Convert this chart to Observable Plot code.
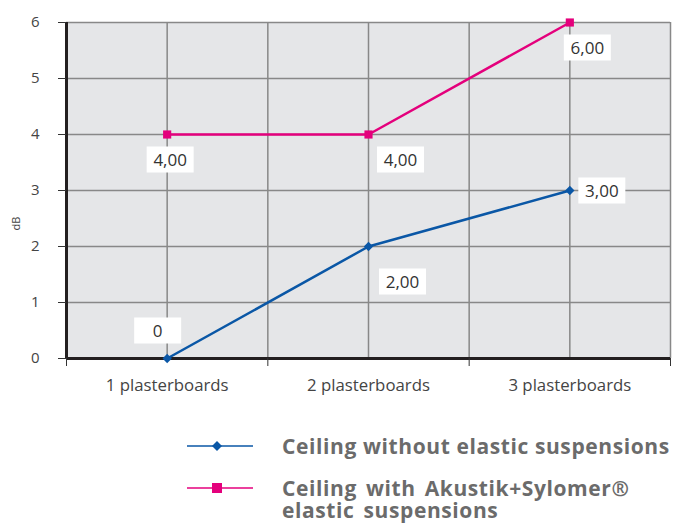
<!DOCTYPE html>
<html>
<head>
<meta charset="utf-8">
<script src="https://cdn.jsdelivr.net/npm/d3@7"></script>
<script src="https://cdn.jsdelivr.net/npm/@observablehq/plot@0.6"></script>
<style>
  html, body { margin: 0; padding: 0; background: #fff; }
  body { width: 678px; height: 524px; overflow: hidden; font-family: "Open Sans", "Noto Sans", sans-serif; }
  #chart svg { display: block; }
  .legend { position: relative; height: 115px; }
  .item { position: absolute; left: 0; }
  .item svg { position: absolute; left: 187px; }
  .item .txt { position: absolute; left: 282px; width: 390px; color: #6b6b6b; font-weight: 700; font-size: 21px; line-height: 22px; letter-spacing: 0.6px; white-space: normal; }
</style>
</head>
<body>
<div id="chart"></div>
<div class="legend" id="legend"></div>
<script>
const categories = ["1 plasterboards", "2 plasterboards", "3 plasterboards"];
const withoutSuspensions = [0, 2, 3];
const withSuspensions = [4, 4, 6];
const withoutLabels = ["0", "2,00", "3,00"];
const withLabels = ["4,00", "4,00", "6,00"];
const yTicks = [0, 1, 2, 3, 4, 5, 6];
const seriesNames = ["Ceiling without elastic suspensions", "Ceiling with Akustik+Sylomer® elastic suspensions"];

const BLUE = "#0a57a6";
const MAGENTA = "#e4007c";

// category i sits in the middle of its band [2i, 2i+2]
const pos = categories.map((c, i) => 2 * i + 1);
const edges = d3.range(0, 2 * categories.length + 1, 2);
const blue = categories.map((c, i) => ({x: pos[i], y: withoutSuspensions[i], label: withoutLabels[i]}));
const pink = categories.map((c, i) => ({x: pos[i], y: withSuspensions[i], label: withLabels[i]}));

const box = {draw(ctx) { ctx.rect(-23.5, -13, 47, 26); }};
function label(d, dx, dy) {
  return [
    Plot.dot([d], {x: "x", y: "y", symbol: box, r: 5, fill: "white", stroke: "none", dx, dy}),
    Plot.text([d], {x: "x", y: "y", text: "label", dx, dy: dy + 1, fontSize: 17, fill: "#333"})
  ];
}
const blueOff = [[-9.5, -28], [34, 35], [32, 0]];
const pinkOff = [[3, 25], [32, 25], [17.5, 25]];

const chart = Plot.plot({
  width: 678,
  height: 405,
  marginLeft: 66,
  marginRight: 8,
  marginTop: 22,
  marginBottom: 47,
  style: {fontFamily: "'Open Sans', 'Noto Sans', sans-serif", fontSize: "15px", background: "white", overflow: "visible"},
  x: {type: "linear", domain: [0, 2 * categories.length], axis: null},
  y: {domain: [0, 6], axis: null},
  marks: [
    Plot.frame({fill: "#e5e6e8", stroke: "none"}),
    Plot.gridX(d3.range(0, 7), {stroke: "#888", strokeOpacity: 1, strokeWidth: 1.5}),
    Plot.gridY(yTicks, {stroke: "#888", strokeOpacity: 1, strokeWidth: 1.5}),
    Plot.ruleX([0], {stroke: "#231f20", strokeWidth: 3}),
    Plot.ruleY([0], {stroke: "#231f20", strokeWidth: 3}),
    Plot.axisY(yTicks, {tickSize: 8, tickPadding: 19, tickFormat: d => String(d), fontSize: 15, fill: "#444", stroke: "#333", label: null}),
    Plot.text(["dB"], {frameAnchor: "left", dx: -50, dy: 40, rotate: -90, fontSize: 11, fill: "#444", text: d => d}),
    Plot.axisX(edges, {tickSize: 8, tickFormat: () => "", stroke: "#333", label: null}),
    Plot.axisX(pos, {tickSize: 0, tickPadding: 21, tickFormat: d => categories[pos.indexOf(d)], fontSize: 16.8, fill: "#444", label: null}),
    Plot.line(blue, {x: "x", y: "y", stroke: BLUE, strokeWidth: 2.5}),
    Plot.dot(blue, {x: "x", y: "y", symbol: "diamond2", r: 4.2, fill: BLUE}),
    Plot.line(pink, {x: "x", y: "y", stroke: MAGENTA, strokeWidth: 2.5}),
    Plot.dot(pink, {x: "x", y: "y", symbol: "square", r: 4.6, fill: MAGENTA}),
    ...blue.flatMap((d, i) => label(d, blueOff[i][0], blueOff[i][1])),
    ...pink.flatMap((d, i) => label(d, pinkOff[i][0], pinkOff[i][1]))
  ]
});
document.getElementById("chart").appendChild(chart);

// Legend
const legend = document.getElementById("legend");
const items = [
  {name: seriesNames[0], color: BLUE, top: 30, shape: "diamond"},
  {name: seriesNames[1], color: MAGENTA, top: 72, shape: "square"}
];
for (const it of items) {
  const div = document.createElement("div");
  div.className = "item";
  div.style.top = it.top + "px";
  const marker = it.shape === "diamond"
    ? `<path d="M30,-5 L35,0 L30,5 L25,0Z" transform="translate(0,11)" fill="${it.color}"/>`
    : `<rect x="25" y="6" width="10" height="10" fill="${it.color}"/>`;
  div.innerHTML = `<svg width="66" height="22"><line x1="0" x2="66" y1="11" y2="11" stroke="${it.color}" stroke-width="1.5"/>${marker}</svg><div class="txt" style="${it.shape === 'square' ? 'word-spacing:3px;' : 'white-space:nowrap;'}">${it.name}</div>`;
  legend.appendChild(div);
}
</script>
</body>
</html>
